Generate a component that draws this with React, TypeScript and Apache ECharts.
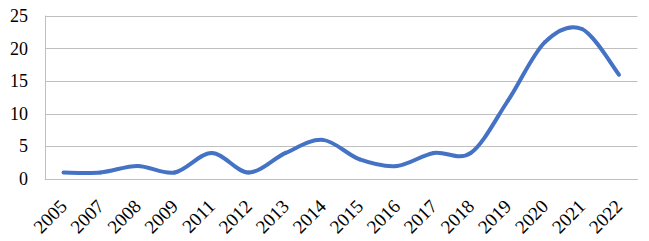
import React, { useEffect, useRef } from "react";
import * as echarts from "echarts";

const years = ["2005","2007","2008","2009","2011","2012","2013","2014","2015","2016","2017","2018","2019","2020","2021","2022"];
const counts = [1, 1, 2, 1, 4, 1, 4, 6, 3, 2, 4, 4, 12, 21, 23, 16];
const yTicks = { min: 0, max: 25, interval: 5 };

export default function App() {
  const ref = useRef<HTMLDivElement>(null);
  useEffect(() => {
    if (!ref.current) return;
    const chart = echarts.init(ref.current, null, { renderer: "svg" });
    const font = "'Liberation Serif', 'Times New Roman', serif";
    const n = counts.length;
    const seriesData = counts.map((v, i) => [i, v]);
    chart.setOption({
      animation: false,
      backgroundColor: "#ffffff",
      grid: { left: 45, right: 11.5, top: 16, bottom: 62, containLabel: false },
      xAxis: {
        type: "category",
        data: years,
        boundaryGap: true,
        axisLine: { show: true, lineStyle: { color: "#bfbfbf", width: 1 } },
        axisTick: { show: false },
        axisLabel: { rotate: 45, color: "#000", fontFamily: font, fontSize: 19, margin: 24, interval: 0 },
      },
      yAxis: {
        type: "value",
        min: yTicks.min,
        max: yTicks.max,
        interval: yTicks.interval,
        axisLine: { show: true, lineStyle: { color: "#bfbfbf", width: 1 } },
        axisTick: { show: false },
        splitLine: { show: true, lineStyle: { color: "#bfbfbf", width: 1 } },
        axisLabel: { color: "#000", fontFamily: font, fontSize: 18, margin: 17 },
      },
      series: [
        {
          type: "custom",
          data: seriesData,
          encode: { x: 0, y: 1 },
          clip: false,
          renderItem: (params: any, api: any) => {
            const i = params.dataIndex;
            if (i >= n - 1) return null;
            const pt = (k: number) => {
              const kk = Math.max(0, Math.min(n - 1, k));
              return api.coord([kk, counts[kk]]);
            };
            const p0 = pt(i - 1);
            const p1 = pt(i);
            const p2 = pt(i + 1);
            const p3 = pt(i + 2);
            const t = 1 / 6;
            return {
              type: "bezierCurve",
              shape: {
                x1: p1[0],
                y1: p1[1],
                x2: p2[0],
                y2: p2[1],
                cpx1: p1[0] + (p2[0] - p0[0]) * t,
                cpy1: p1[1] + (p2[1] - p0[1]) * t,
                cpx2: p2[0] - (p3[0] - p1[0]) * t,
                cpy2: p2[1] - (p3[1] - p1[1]) * t,
              },
              style: { stroke: "#4472C4", lineWidth: 4, fill: null, lineCap: "round" },
            };
          },
        },
      ],
    });
    return () => chart.dispose();
  }, []);
  return (
    <div
      ref={ref}
      style={{ position: "fixed", left: 0, top: 0, width: 649, height: 241 }}
    />
  );
}
